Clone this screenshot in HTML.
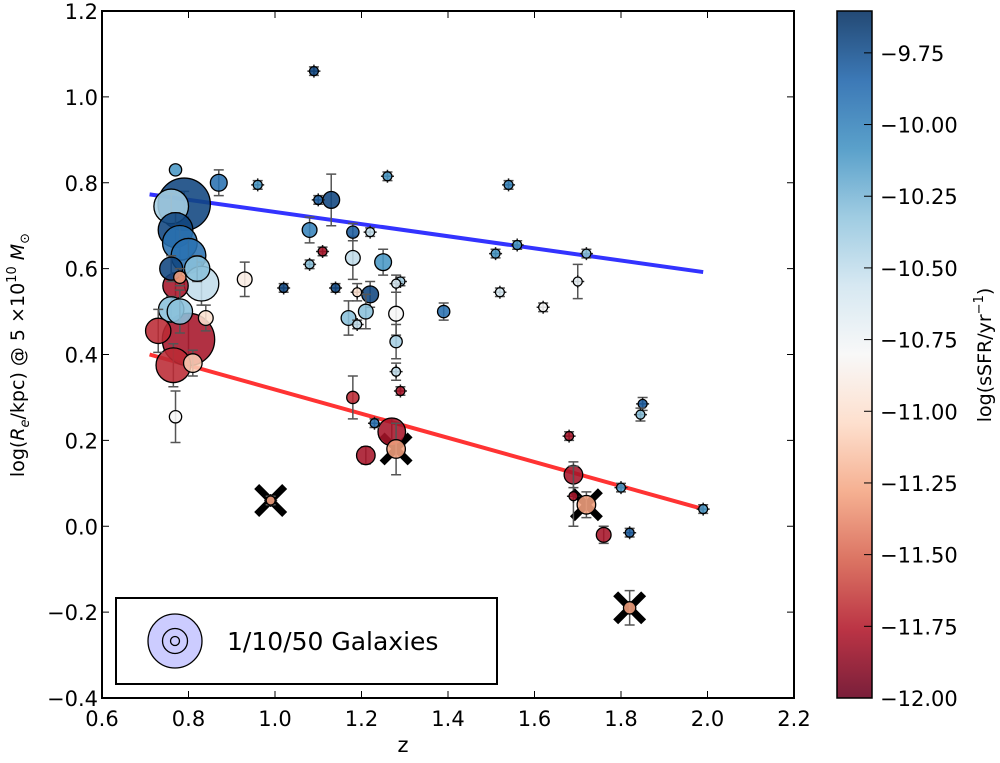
<!DOCTYPE html>
<html><head><meta charset="utf-8"><style>
body{margin:0;background:#fff;}
svg text{font-family:"DejaVu Sans","Liberation Sans",sans-serif;}
</style></head><body>
<svg id="chart" width="1000" height="758" xmlns="http://www.w3.org/2000/svg">
<defs>
<linearGradient id="cmap" x1="0" y1="1" x2="0" y2="0">
<stop offset="0" stop-color="#67001f"/><stop offset="0.1" stop-color="#b2182b"/><stop offset="0.2" stop-color="#d6604d"/><stop offset="0.3" stop-color="#f4a582"/><stop offset="0.4" stop-color="#fddbc7"/><stop offset="0.5" stop-color="#f7f7f7"/><stop offset="0.6" stop-color="#d1e5f0"/><stop offset="0.7" stop-color="#92c5de"/><stop offset="0.8" stop-color="#4393c3"/><stop offset="0.9" stop-color="#2166ac"/><stop offset="1" stop-color="#053061"/>
</linearGradient>
<clipPath id="pc"><rect x="102" y="11" width="692" height="687"/></clipPath>
</defs>
<g id="plot"></g>
</svg>
<script>
const zVals=[1.09,0.96,1.26,1.54,0.87,0.77,1.13,1.10,1.08,1.18,1.22,1.08,1.56,1.72,1.51,1.25,1.18,1.29,1.28,0.93,1.02,1.14,1.22,1.19,1.52,1.62,1.70,1.21,1.17,1.19,1.28,1.39,1.11,1.28,1.28,1.29,1.18,1.23,1.27,1.21,1.28,1.85,1.845,1.68,1.69,1.69,1.72,1.80,1.99,1.76,1.82,1.82,0.99,
0.76,0.79,0.77,0.78,0.80,0.82,0.83,0.76,0.78,0.77,0.76,0.78,0.84,0.73,0.80,0.765,0.81,0.77];
const reVals=[1.06,0.795,0.815,0.795,0.80,0.83,0.76,0.76,0.69,0.685,0.685,0.61,0.655,0.635,0.635,0.615,0.625,0.57,0.565,0.575,0.555,0.555,0.54,0.545,0.545,0.51,0.57,0.50,0.485,0.47,0.495,0.50,0.64,0.43,0.36,0.315,0.30,0.24,0.22,0.165,0.18,0.285,0.26,0.21,0.12,0.07,0.05,0.09,0.04,-0.02,-0.015,-0.19,0.06,
0.745,0.75,0.69,0.66,0.63,0.60,0.565,0.60,0.58,0.56,0.505,0.50,0.485,0.455,0.435,0.375,0.38,0.255];
const nGal=[1,1,1,1,4,2,4,1,3,2,1,1,1,1,1,4,3,1,1,3,1,1,4,1,1,1,1,3,3,1,3,2,1,2,1,1,2,1,12,5,5,1,1,1,5,1,5,1,1,3,1,2,1,
20,50,20,20,20,10,20,8,2,10,10,10,3,10,50,20,5,2];
const ssfrVals=[-9.7,-10.1,-10.1,-10.0,-9.9,-10.1,-9.7,-9.8,-10.0,-9.8,-10.5,-10.3,-10.1,-10.3,-10.1,-10.1,-10.5,-10.4,-10.6,-10.9,-9.7,-9.7,-9.7,-11.0,-10.6,-10.8,-10.7,-10.3,-10.3,-10.5,-10.8,-9.9,-11.8,-10.4,-10.5,-11.8,-11.7,-9.9,-11.8,-11.8,-11.3,-9.8,-10.3,-11.8,-11.8,-11.8,-11.3,-10.1,-10.1,-11.8,-9.8,-11.3,-11.3,
-10.4,-9.7,-9.7,-9.9,-9.9,-10.3,-10.5,-9.7,-11.3,-11.8,-10.3,-10.3,-11.0,-11.7,-11.8,-11.7,-11.1,-10.8];
const errVals=[0.01,0.01,0.01,0.01,0.03,0,0.06,0.01,0.03,0.02,0.01,0.01,0.01,0.01,0.01,0.03,0.05,0.01,0.02,0.04,0.01,0.01,0.03,0.02,0.01,0.01,0.04,0.04,0.04,0.01,0.05,0.02,0.01,0.04,0.02,0.01,0.05,0.01,0.03,0.02,0.06,0.015,0.015,0.01,0.03,0.07,0.03,0.01,0.01,0.02,0.01,0.04,0.01,
0.03,0.03,0.04,0.04,0.04,0.03,0.05,0.03,0.02,0.03,0.03,0.05,0.03,0.05,0.06,0.05,0.03,0.06];
const crossIdx=[52,46,51,40];
const blueFit=[[0.71,0.773],[1.99,0.592]];
const redFit=[[0.71,0.40],[1.99,0.04]];
const xTicks=[0.6,0.8,1.0,1.2,1.4,1.6,1.8,2.0,2.2];
const yTicks=[-0.4,-0.2,0.0,0.2,0.4,0.6,0.8,1.0,1.2];
const cTicks=[-9.75,-10.00,-10.25,-10.50,-10.75,-11.00,-11.25,-11.50,-11.75,-12.00];

const L=102,R=794,T=11,B=698;
const xs=v=>L+(v-0.6)/1.6*(R-L);
const ys=v=>B-(v+0.4)/1.6*(B-T);
const cMin=-12,cMax=-9.604;
const cy=v=>B-(v-cMin)/(cMax-cMin)*(B-T);
const stops=[[103,0,31],[178,24,43],[214,96,77],[244,165,130],[253,219,199],[247,247,247],[209,229,240],[146,197,222],[67,147,195],[33,102,172],[5,48,97]];
function cmap(v){let t=Math.max(0,Math.min(1,(v-cMin)/(cMax-cMin)))*10;let i=Math.min(9,Math.floor(t)),f=t-i;const a=stops[i],b=stops[i+1];return `rgb(${a.map((c,k)=>Math.round(c+(b[k]-c)*f)).join(',')})`;}
const rad=n=>4.5*Math.pow(n,0.45);
const NS='http://www.w3.org/2000/svg';
const g=document.getElementById('plot');
function el(tag,attrs,parent){const e=document.createElementNS(NS,tag);for(const k in attrs)e.setAttribute(k,attrs[k]);(parent||g).appendChild(e);return e;}

const marks=el('g',{'clip-path':'url(#pc)'});


[[blueFit,'#3333ff','blue-fit-line'],[redFit,'#ff3333','red-fit-line']].forEach(([f,c,n])=>{
 const ln=el('line',{x1:xs(f[0][0]),y1:ys(f[0][1]),x2:xs(f[1][0]),y2:ys(f[1][1]),stroke:c,'stroke-width':4},marks);
 
 
});
crossIdx.forEach(i=>{const x=xs(zVals[i]),y=ys(reVals[i]),h=14;
 const c=el('path',{d:`M${x-h},${y-h}L${x+h},${y+h}M${x-h},${y+h}L${x+h},${y-h}`,stroke:'#000','stroke-width':7},marks);
 
 
});
const order=zVals.map((_,i)=>i).sort((a,b)=>nGal[b]-nGal[a]);
order.forEach(i=>{const x=xs(zVals[i]),y=ys(reVals[i]);
 const gg=el('g',{},marks);
 
 
 const e=errVals[i],r=rad(nGal[i]);
 if(e>0){const y1=ys(reVals[i]+e),y2=ys(reVals[i]-e);
  el('path',{d:`M${x},${y1}L${x},${y2}M${x-5},${y1}L${x+5},${y1}M${x-5},${y2}L${x+5},${y2}`,stroke:'#555','stroke-width':1.5},gg);}
 if(nGal[i]===1) el('path',{d:`M${x-r-2},${y}L${x+r+2},${y}M${x},${y-r-2}L${x},${y+r+2}`,stroke:'#222','stroke-width':1.5},gg);
 el('circle',{cx:x,cy:y,r:r,fill:cmap(ssfrVals[i]),'fill-opacity':0.88,stroke:'#000','stroke-width':1.3},gg);
});
const fr=el('rect',{x:L,y:T,width:R-L,height:B-T,fill:'none',stroke:'#000','stroke-width':2});


xTicks.forEach(v=>{const x=xs(v);
 el('line',{x1:x,y1:B,x2:x,y2:B-7,stroke:'#000'});el('line',{x1:x,y1:T,x2:x,y2:T+7,stroke:'#000'});
 const t=el('text',{x:x,y:B+28,'font-size':21,'text-anchor':'middle'});t.textContent=v.toFixed(1);
 
 
});
yTicks.forEach(v=>{const y=ys(v);
 el('line',{x1:L,y1:y,x2:L+7,y2:y,stroke:'#000'});el('line',{x1:R,y1:y,x2:R-7,y2:y,stroke:'#000'});
 const t=el('text',{x:L-4,y:y+8,'font-size':21,'text-anchor':'end'});t.textContent=(v<0?'\u2212':'')+Math.abs(v).toFixed(1);
 
 
});
const xl=el('text',{x:403,y:752,'font-size':21,'text-anchor':'middle'});xl.textContent='z';


const yl=el('text',{x:0,y:0,'font-size':19,'text-anchor':'middle',transform:'translate(24,355) rotate(-90)'});
yl.innerHTML='log(<tspan font-style="italic">R</tspan><tspan font-style="italic" font-size="13" dy="5">e</tspan><tspan dy="-5">/kpc) @ 5 ×10</tspan><tspan font-size="13" dy="-8">10</tspan><tspan dy="8" font-style="italic"> M</tspan><tspan font-size="13" dy="5">⊙</tspan>';


const lg=el('g',{});


el('rect',{x:116,y:598,width:381,height:86,fill:'#fff',stroke:'#000','stroke-width':2},lg);
el('circle',{cx:175,cy:641,r:27,fill:'#ccccff',stroke:'#000','stroke-width':1.3},lg);
el('circle',{cx:175,cy:641,r:12.5,fill:'none',stroke:'#000','stroke-width':1.3},lg);
el('circle',{cx:175,cy:641,r:4.5,fill:'none',stroke:'#000','stroke-width':1.3},lg);
const lt=el('text',{x:227,y:650,'font-size':25},lg);lt.textContent='1/10/50 Galaxies';
const cb=el('rect',{x:837,y:T,width:35,height:B-T,fill:'url(#cmap)','fill-opacity':0.88,stroke:'#000','stroke-width':1.5});


cTicks.forEach(v=>{const y=cy(v);
 el('line',{x1:872,y1:y,x2:864,y2:y,stroke:'#000'});
 const t=el('text',{x:880,y:y+8,'font-size':21});t.textContent='\u2212'+Math.abs(v).toFixed(2);
 
 
});
const cl=el('text',{x:0,y:0,'font-size':19,'text-anchor':'middle',transform:'translate(991,355) rotate(-90)'});
cl.innerHTML='log(sSFR/yr<tspan font-size="13" dy="-8">−1</tspan><tspan dy="8">)</tspan>';


</script>
</body></html>
